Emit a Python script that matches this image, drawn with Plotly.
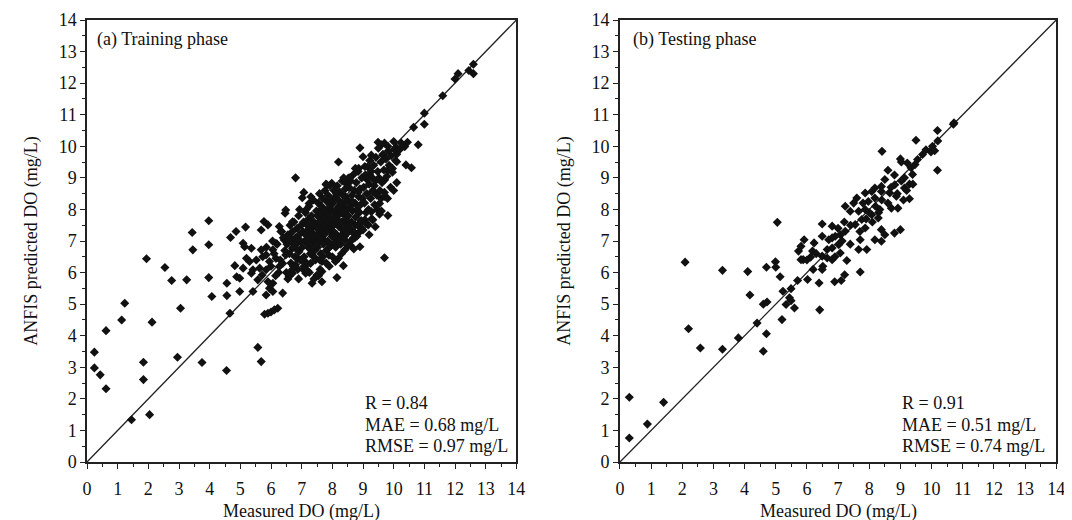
import plotly.graph_objects as go

# ---------------- data ----------------
# Training phase: measured DO (x) vs ANFIS predicted DO (y)
train_pts = [
    # upper diagonal tail
    (6.8, 9.0), (12.6, 12.6), (12.6, 12.3), (12.45, 12.4), (12.1, 12.3), (12.0, 12.13),
    (11.6, 11.6), (11.0, 11.05), (11.0, 10.7), (10.65, 10.6), (10.8, 10.05), (10.45, 10.13),
    (10.36, 9.99), (10.0, 10.15), (10.08, 9.97), (9.81, 10.0), (9.49, 10.13), (8.9, 9.95),
    (9.5, 9.94), (9.27, 9.72), (9.65, 9.72), (10.1, 9.51), (10.4, 9.41), (10.58, 9.32),
    (9.96, 9.18), (9.8, 9.23), (9.7, 8.94), (8.2, 9.5), (9.0, 9.67), (9.06, 9.36),
    (9.22, 9.09), (8.86, 9.3), (8.52, 8.99), (7.98, 8.83), (7.82, 8.78),
    # mid region
    (9.7, 8.93), (9.7, 8.54), (7.07, 8.54), (7.02, 8.37), (7.82, 8.77), (9.32, 8.56),
    (9.59, 8.35), (9.54, 8.19), (9.81, 7.81), (9.54, 7.85), (6.48, 7.98), (6.46, 7.88),
    (6.7, 7.61), (7.24, 8.19), (9.27, 7.93), (9.32, 7.67), (9.17, 7.51), (9.06, 7.67),
    (8.85, 7.93), (8.74, 7.51), (8.9, 6.82), (8.57, 6.88), (8.41, 6.72), (8.36, 6.22),
    (8.2, 6.45), (8.15, 5.84), (9.7, 6.47), (7.88, 6.77), (7.66, 6.35), (7.66, 6.03),
    (7.66, 5.71), (7.5, 5.92), (7.34, 5.66), (7.29, 6.29), (7.07, 6.19), (7.13, 5.98),
    (6.7, 5.98), (6.59, 5.88), (6.38, 5.35), (6.22, 4.87), (6.11, 4.82), (6.0, 4.75),
    (5.9, 4.71), (5.79, 4.68), (6.06, 5.66), (5.95, 5.5), (5.84, 5.29), (6.06, 5.4),
    (5.9, 5.71), (5.57, 5.77), (5.41, 5.4), (5.71, 5.92), (5.63, 6.14), (5.84, 6.09),
    (5.36, 5.98), (5.41, 6.09), (5.09, 6.14), (4.98, 5.82), (4.88, 5.87), (4.82, 6.22),
    (4.56, 5.66), (4.98, 5.4), (4.56, 5.27), (4.66, 4.71), (4.07, 5.24), (3.97, 5.84),
    (3.97, 6.88), (3.97, 7.64), (3.43, 7.27), (3.45, 6.72), (3.25, 5.77), (3.05, 4.87),
    (2.76, 5.75), (2.54, 6.16), (1.94, 6.44), (2.12, 4.43), (1.23, 5.03), (1.13, 4.5),
    (0.62, 4.16), (0.24, 3.48), (2.95, 3.32), (5.57, 3.63), (4.68, 7.11), (4.86, 7.3),
    (5.17, 7.44), (5.09, 6.93), (5.14, 6.82), (5.36, 6.77), (5.68, 7.35), (5.77, 7.62),
    (5.9, 7.51), (5.68, 6.72), (5.2, 6.45), (5.3, 6.35), (5.52, 6.4), (5.73, 6.5),
    (5.84, 6.56), (6.06, 6.72), (6.16, 6.93), (6.27, 7.46), (6.32, 7.3), (6.43, 7.03),
    (6.59, 7.14), (6.16, 6.45), (6.27, 6.19), (6.38, 6.29), (6.48, 6.56), (6.7, 6.77),
    (6.86, 6.45), (6.91, 6.66), (7.24, 6.77), (7.34, 6.56), (7.45, 6.45), (7.13, 7.2),
    (7.34, 6.98), (7.56, 7.03), (7.77, 6.98), (7.99, 6.88), (8.09, 7.09), (8.31, 7.2),
    (8.41, 7.03), (8.68, 7.09), (8.63, 7.3), (8.9, 7.3), (8.41, 7.62), (8.52, 7.41),
    (8.95, 7.62),
    # low outliers
    (0.24, 2.98), (0.43, 2.76), (0.62, 2.32), (1.45, 1.34), (2.04, 1.5), (1.84, 3.16),
    (1.84, 2.61), (3.75, 3.15), (4.55, 2.9), (5.68, 3.18),
    # dense cloud 6.5-7.0
    (6.52, 6.9), (6.55, 7.2), (6.6, 6.6), (6.62, 7.5), (6.65, 6.3), (6.68, 7.0), (6.7, 7.3),
    (6.72, 6.8), (6.75, 7.6), (6.78, 6.5), (6.8, 7.1), (6.82, 6.9), (6.85, 7.4), (6.88, 6.7),
    (6.9, 7.8), (6.92, 7.2), (6.95, 6.4), (6.97, 7.0), (6.98, 7.5), (6.6, 7.05), (6.73, 6.2),
    (6.87, 6.1), (6.93, 8.0),
    # 7.0-7.5
    (7.02, 6.8), (7.04, 7.3), (7.06, 7.6), (7.08, 6.5), (7.1, 7.0), (7.12, 7.9), (7.14, 7.2),
    (7.16, 6.3), (7.18, 7.5), (7.2, 6.9), (7.22, 7.7), (7.24, 8.1), (7.26, 7.1), (7.28, 6.6),
    (7.3, 7.4), (7.32, 7.8), (7.34, 6.9), (7.36, 7.25), (7.38, 8.3), (7.4, 7.6), (7.42, 6.7),
    (7.44, 7.0), (7.46, 7.45), (7.48, 7.95), (7.05, 6.1), (7.15, 8.0), (7.25, 6.0),
    (7.35, 7.55), (7.45, 6.4), (7.2, 7.35), (7.3, 8.4), (7.4, 7.15),
    # 7.5-8.0
    (7.5, 7.2), (7.51, 7.8), (7.52, 6.8), (7.54, 8.2), (7.55, 7.5), (7.56, 7.0), (7.58, 8.5),
    (7.6, 7.35), (7.61, 7.9), (7.62, 6.6), (7.64, 7.65), (7.65, 8.1), (7.66, 7.1), (7.68, 8.35),
    (7.7, 7.45), (7.71, 6.9), (7.72, 7.75), (7.74, 8.0), (7.75, 7.25), (7.76, 8.6), (7.78, 7.55),
    (7.8, 6.7), (7.81, 7.85), (7.82, 8.25), (7.84, 7.4), (7.85, 7.0), (7.86, 8.45), (7.88, 7.7),
    (7.9, 8.05), (7.91, 7.3), (7.92, 8.75), (7.94, 7.6), (7.95, 6.85), (7.96, 7.95), (7.98, 8.3),
    (7.99, 7.15), (7.53, 7.4), (7.57, 7.6), (7.63, 8.0), (7.67, 7.85), (7.73, 7.2), (7.77, 7.95),
    (7.83, 7.65), (7.87, 7.85), (7.93, 8.15), (7.97, 7.5), (7.59, 6.4), (7.69, 6.5), (7.79, 8.8),
    (7.89, 6.55),
    # 8.0-8.5
    (8.0, 7.7), (8.02, 8.2), (8.04, 7.3), (8.05, 8.6), (8.06, 7.9), (8.08, 6.95), (8.1, 8.4),
    (8.12, 7.55), (8.14, 8.0), (8.15, 7.2), (8.16, 8.75), (8.18, 7.8), (8.2, 8.3), (8.22, 7.45),
    (8.24, 8.55), (8.25, 7.05), (8.26, 7.95), (8.28, 8.15), (8.3, 7.6), (8.32, 8.9), (8.34, 7.35),
    (8.35, 8.45), (8.36, 7.85), (8.38, 8.05), (8.4, 7.15), (8.42, 8.65), (8.44, 7.7), (8.45, 8.25),
    (8.46, 7.5), (8.48, 8.0), (8.03, 7.5), (8.09, 7.75), (8.13, 8.5), (8.19, 7.65), (8.23, 8.1),
    (8.29, 7.9), (8.33, 8.2), (8.39, 7.95), (8.43, 8.4), (8.49, 7.25), (8.11, 6.8), (8.27, 6.9),
    (8.37, 9.0), (8.47, 8.8),
    # 8.5-9.0
    (8.5, 8.3), (8.52, 7.8), (8.54, 8.7), (8.56, 7.4), (8.58, 8.1), (8.6, 8.9), (8.62, 7.6),
    (8.64, 8.45), (8.66, 7.95), (8.68, 9.1), (8.7, 7.3), (8.72, 8.6), (8.74, 8.2), (8.76, 7.75),
    (8.78, 8.85), (8.8, 8.0), (8.82, 7.5), (8.84, 9.2), (8.86, 8.4), (8.88, 7.9), (8.9, 8.65),
    (8.92, 8.15), (8.94, 7.65), (8.96, 9.0), (8.98, 8.35), (8.55, 8.05), (8.65, 8.25),
    (8.75, 9.3), (8.85, 8.55), (8.95, 7.4), (8.57, 9.0), (8.73, 7.1),
    # 9.0-9.5
    (9.02, 8.7), (9.05, 8.2), (9.08, 9.1), (9.1, 7.9), (9.12, 8.5), (9.15, 9.35), (9.18, 8.0),
    (9.2, 8.8), (9.22, 9.55), (9.25, 8.35), (9.28, 7.7), (9.3, 9.0), (9.32, 8.6), (9.35, 9.4),
    (9.38, 8.15), (9.4, 8.9), (9.42, 9.65), (9.45, 8.45), (9.48, 9.2), (9.13, 8.95),
    (9.27, 9.2), (9.37, 8.75), (9.46, 8.0),
    # 9.5-10.3
    (9.52, 9.0), (9.55, 8.6), (9.58, 9.5), (9.62, 8.85), (9.65, 9.75), (9.68, 9.25),
    (9.72, 8.4), (9.75, 9.6), (9.78, 9.05), (9.82, 9.85), (9.85, 9.4), (9.9, 8.7), (9.92, 9.7),
    (9.96, 9.3), (10.02, 9.9), (10.06, 9.55), (10.1, 9.75), (10.2, 9.9), (10.25, 10.1),
    (9.6, 10.05), (9.7, 10.1),
    # lower band
    (6.0, 6.2), (6.1, 6.6), (6.2, 6.9), (6.3, 6.4), (6.4, 7.1), (6.45, 6.7), (6.25, 6.0),
    (6.35, 7.3), (6.05, 7.0), (6.15, 5.9), (5.95, 6.35), (5.85, 6.8), (6.5, 6.0), (6.55, 5.8),
    (6.6, 5.95), (6.7, 6.1), (6.8, 6.25), (6.9, 5.8), (7.0, 6.4), (7.1, 6.2), (7.2, 6.05),
    (7.4, 5.8), (7.55, 5.9), (7.6, 6.1), (7.8, 6.3), (7.9, 6.2), (8.0, 6.5), (8.1, 6.35),
    (8.3, 6.6), (8.5, 6.85), (8.6, 7.0), (8.7, 6.75), (8.8, 7.15), (9.0, 7.35), (9.1, 7.55),
    (9.2, 7.2), (9.4, 7.45), (9.6, 7.95), (9.8, 8.35), (10.0, 8.6), (10.1, 8.85),
]

# Testing phase
test_pts = [
    (10.72, 10.74), (10.7, 10.7), (10.19, 10.5), (9.5, 10.19), (10.2, 10.17), (10.03, 10.0),
    (9.98, 9.82), (10.1, 9.86), (9.82, 9.89), (9.71, 9.74), (9.55, 9.58), (9.47, 9.42),
    (9.34, 9.32), (9.39, 9.11), (10.19, 9.24), (8.41, 9.84), (9.0, 9.6), (9.03, 9.5),
    (9.22, 9.47), (8.6, 9.24), (8.81, 9.09), (9.13, 9.0), (8.5, 8.95), (9.03, 8.9),
    (9.29, 8.8), (8.39, 8.73), (8.18, 8.68),
    (8.82, 8.78), (9.13, 8.68), (9.4, 8.8), (9.29, 8.34), (8.87, 8.42), (8.66, 8.52),
    (8.39, 8.57), (8.08, 8.57), (7.87, 8.52), (8.18, 8.36), (7.97, 8.25), (7.6, 8.36),
    (7.5, 8.2), (7.23, 8.1), (7.39, 7.94), (7.66, 7.94), (7.87, 8.0), (8.08, 7.83),
    (8.29, 7.73), (8.34, 8.0), (8.71, 8.04), (8.92, 8.04), (7.76, 7.68), (7.55, 7.52),
    (7.87, 7.41), (8.39, 7.36), (8.5, 7.2), (8.18, 7.04), (8.39, 6.99), (8.81, 7.25),
    (9.0, 7.36), (7.71, 7.04), (7.66, 6.73), (7.92, 6.73), (7.39, 6.9), (7.23, 7.31),
    (7.07, 7.2), (7.13, 7.0), (6.91, 7.15), (6.81, 7.1), (6.7, 7.04), (7.02, 6.88),
    (7.07, 6.62), (7.28, 6.38), (6.81, 6.78), (6.65, 6.73), (6.65, 6.46), (6.81, 6.41),
    (6.49, 6.52), (6.51, 6.2), (6.49, 6.1), (6.49, 7.54), (6.81, 7.47), (6.49, 7.15),
    (6.18, 6.68), (6.23, 6.94), (5.91, 7.04), (5.81, 6.83), (5.73, 6.68), (5.88, 6.41),
    (5.81, 6.41), (6.12, 6.49), (6.02, 5.78), (5.7, 5.75), (6.39, 5.67), (6.89, 5.71),
    (7.1, 5.75), (7.21, 5.93), (7.71, 6.02), (5.49, 5.49), (5.23, 5.41), (5.44, 5.2),
    (5.49, 5.11), (5.33, 4.99), (5.6, 4.88), (5.14, 5.87), (4.99, 6.34), (5.0, 6.17),
    (4.7, 6.17), (5.05, 7.59), (4.1, 6.03), (3.29, 6.07), (2.09, 6.33), (4.17, 5.29),
    (4.6, 5.0), (4.72, 5.07), (4.4, 4.4), (5.2, 4.51), (4.7, 4.06), (3.8, 3.93),
    (4.6, 3.51), (3.29, 3.57), (2.58, 3.61), (2.2, 4.22), (6.41, 4.82),
    (0.3, 2.05), (0.3, 0.76), (0.88, 1.2), (1.4, 1.89),
    (7.8, 8.2), (8.0, 7.9), (8.2, 8.1), (8.4, 8.3), (8.1, 7.6), (7.9, 7.7), (8.3, 7.9),
    (8.6, 8.2), (8.7, 8.7), (9.1, 8.3), (9.2, 8.6), (8.9, 8.5), (7.7, 7.3), (7.4, 7.5),
    (7.2, 7.6), (7.0, 7.4), (6.9, 6.5), (6.3, 6.6), (6.0, 6.4), (6.2, 6.1),
]

train_measured = [p[0] for p in train_pts]
train_predicted = [p[1] for p in train_pts]
test_measured = [p[0] for p in test_pts]
test_predicted = [p[1] for p in test_pts]

line_xy = [0, 14]          # 1:1 reference line
tick_vals = list(range(0, 15))
panel_titles = ["(a) Training phase", "(b) Testing phase"]
stats_train = ["R = 0.84", "MAE = 0.68 mg/L", "RMSE = 0.97 mg/L"]
stats_test = ["R = 0.91", "MAE = 0.51 mg/L", "RMSE = 0.74 mg/L"]
x_title = "Measured DO (mg/L)"
y_title = "ANFIS predicted DO (mg/L)"

# ---------------- figure ----------------
W, H = 1072, 520
FONT = "Liberation Serif"
fig = go.Figure()

marker = dict(symbol="diamond", size=7, color="#111111", line=dict(width=0))
for i, (xs, ys) in enumerate([(train_measured, train_predicted), (test_measured, test_predicted)]):
    xa = "x" if i == 0 else "x2"
    ya = "y" if i == 0 else "y2"
    fig.add_trace(go.Scatter(x=line_xy, y=line_xy, mode="lines",
                             line=dict(color="#222222", width=1.3),
                             xaxis=xa, yaxis=ya, showlegend=False, hoverinfo="skip"))
    fig.add_trace(go.Scatter(x=xs, y=ys, mode="markers", marker=marker,
                             xaxis=xa, yaxis=ya, showlegend=False))

axis_common = dict(
    range=[0, 14], tickvals=tick_vals, ticks="outside", ticklen=5, tickwidth=1,
    tickcolor="#222", showline=True, linecolor="#222", linewidth=1.5, mirror=True,
    showgrid=False, zeroline=False, tickfont=dict(family=FONT, size=18, color="#111"),
    minor=dict(ticks="outside", ticklen=3, dtick=0.5, tickcolor="#222", tickwidth=1, showgrid=False),
    fixedrange=True,
)
x_extra = dict(ticklabelstandoff=5)

dom1 = [75 / W, 510 / W]
dom2 = [615 / W, 1057 / W]

fig.update_layout(
    width=W, height=H,
    margin=dict(l=0, r=0, t=12, b=66),
    paper_bgcolor="white", plot_bgcolor="white",
    font=dict(family=FONT, size=18, color="#111"),
    xaxis=dict(domain=dom1, anchor="y", **axis_common, **x_extra),
    yaxis=dict(domain=[0, 1], anchor="x", **axis_common),
    xaxis2=dict(domain=dom2, anchor="y2", **axis_common, **x_extra),
    yaxis2=dict(domain=[0, 1], anchor="x2", **axis_common),
)

ann = []
for i, (xd, stats, title) in enumerate([(dom1, stats_train, panel_titles[0]),
                                          (dom2, stats_test, panel_titles[1])]):
    xr = "x" if i == 0 else "x2"
    yr = "y" if i == 0 else "y2"
    tx = 0.26 if i == 0 else 0.35
    ann.append(dict(text=title, x=tx, y=13.38, xref=xr, yref=yr, xanchor="left",
                    yanchor="middle", showarrow=False, font=dict(family=FONT, size=18, color="#111")))
    for s, yy in zip(stats, [1.87, 1.17, 0.51]):
        ann.append(dict(text=s, x=9.0, y=yy, xref=xr, yref=yr, xanchor="left",
                        yanchor="middle", showarrow=False, font=dict(family=FONT, size=18, color="#111")))
    # axis titles
    ann.append(dict(text=x_title, x=(xd[0] + xd[1]) / 2, y=(454 - 503) / 442, xref="paper", yref="paper",
                    xanchor="center", yanchor="middle", showarrow=False,
                    font=dict(family=FONT, size=18, color="#111")))
    ytx = (18 if i == 0 else 558) / W
    ann.append(dict(text=y_title, x=ytx, y=0.5, xref="paper", yref="paper", textangle=-90,
                    xanchor="center", yanchor="middle", showarrow=False,
                    font=dict(family=FONT, size=18, color="#111")))
fig.update_layout(annotations=ann)

fig.write_html("out.html")
